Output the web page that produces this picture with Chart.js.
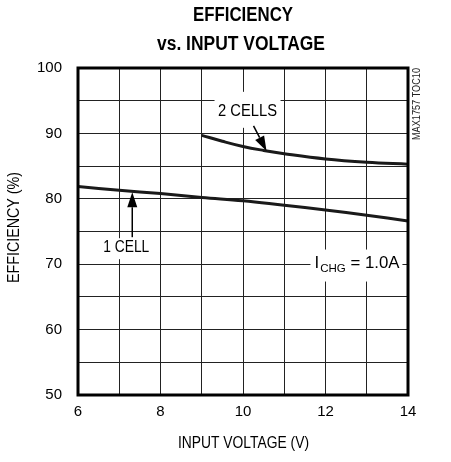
<!DOCTYPE html>
<html>
<head>
<meta charset="utf-8">
<script src="https://cdn.jsdelivr.net/npm/chart.js@4"></script>
<style>
  html, body { margin: 0; padding: 0; background: #fff; }
  #wrap { width: 451px; height: 462px; }
</style>
</head>
<body>
<div id="wrap"><canvas id="myChart" width="451" height="462"></canvas></div>
<script>
var FONT = '"Liberation Sans Narrow", "Arial Narrow", "Liberation Sans", sans-serif';

var oneCellV = [6, 7, 8, 9, 10, 11, 12, 13, 14];
var oneCellEff = [81.9, 81.3, 80.8, 80.2, 79.7, 79.0, 78.3, 77.5, 76.6];
var twoCellV = [9, 9.5, 10, 10.5, 11, 12, 13, 14];
var twoCellEff = [89.7, 88.8, 88.0, 87.4, 86.9, 86.1, 85.6, 85.3];
var xTicks = [6, 8, 10, 12, 14];
var yTicks = [50, 60, 70, 80, 90, 100];

function pts(xs, ys) {
  return xs.map(function (x, i) { return { x: x, y: ys[i] }; });
}

// text squeezed to a given width, centred on x
function fitText(c, txt, x, y, width) {
  var w = c.measureText(txt).width;
  c.save();
  c.translate(x, y);
  c.scale(width / w, 1);
  c.textAlign = 'center';
  c.fillText(txt, 0, 0);
  c.restore();
}

var ctx = document.getElementById('myChart');

var extras = {
  id: 'extras',
  afterDraw: function (chart) {
    var c = chart.ctx, a = chart.chartArea;
    var sx = chart.scales.x, sy = chart.scales.y;
    c.save();
    // frame
    c.strokeStyle = '#000';
    c.lineWidth = 3;
    c.strokeRect(a.left, a.top, a.right - a.left, a.bottom - a.top);

    // title
    c.fillStyle = '#000';
    c.textBaseline = 'middle';
    c.font = 'bold 20px ' + FONT;
    fitText(c, 'EFFICIENCY', 243, 15, 100);
    fitText(c, 'vs. INPUT VOLTAGE', 241, 44, 168);

    // axis titles
    c.font = '16px ' + FONT;
    fitText(c, 'INPUT VOLTAGE (V)', 243.5, 444, 131);
    c.save();
    c.translate(15, 227.5);
    c.rotate(-Math.PI / 2);
    fitText(c, 'EFFICIENCY (%)', 0, 0, 111);
    c.restore();

    function box(x0, y0, x1, y1) {
      c.fillStyle = '#fff';
      c.fillRect(x0, y0, x1 - x0, y1 - y0);
    }
    function arrow(x0, y0, x1, y1) {
      var ang = Math.atan2(y1 - y0, x1 - x0), L = 15, W = 5;
      var bx = x1 - L * Math.cos(ang), by = y1 - L * Math.sin(ang);
      c.strokeStyle = '#000';
      c.lineWidth = 1.5;
      c.beginPath(); c.moveTo(x0, y0); c.lineTo(bx, by); c.stroke();
      c.fillStyle = '#000';
      c.beginPath();
      c.moveTo(x1, y1);
      c.lineTo(bx + W * Math.sin(ang), by - W * Math.cos(ang));
      c.lineTo(bx - W * Math.sin(ang), by + W * Math.cos(ang));
      c.closePath(); c.fill();
    }

    c.font = '16px ' + FONT;
    var x2 = sx.getPixelForValue(10.11), y2 = sy.getPixelForValue(93.3);
    box(x2 - 33, y2 - 20, x2 + 33, y2 + 16);
    c.fillStyle = '#000';
    fitText(c, '2 CELLS', x2, y2, 59);
    arrow(x2 + 6, y2 + 14, sx.getPixelForValue(10.57), sy.getPixelForValue(87.3));

    var x1 = sx.getPixelForValue(7.17), y1 = sy.getPixelForValue(72.6);
    box(x1 - 25, y1 - 9, x1 + 25, y1 + 12);
    c.fillStyle = '#000';
    fitText(c, '1 CELL', x1, y1, 46);
    arrow(x1 + 6, y1 - 10, x1 + 6, sy.getPixelForValue(81.0));

    var xi = sx.getPixelForValue(12.75), yi = sy.getPixelForValue(70.1);
    box(xi - 46, yi - 14, xi + 46, yi + 18);
    c.fillStyle = '#000';
    // I_CHG = 1.0A, squeezed to ~85px
    c.save();
    c.translate(xi - 42, yi);
    c.font = '16px ' + FONT;
    var wI = c.measureText('I').width;
    var wEq = c.measureText(' = 1.0A').width;
    c.font = '11px ' + FONT;
    var wS = c.measureText('CHG').width;
    var k = 85 / (wI + 1 + wS + wEq);
    c.scale(k, 1);
    c.textAlign = 'left';
    c.font = '16px ' + FONT;
    c.fillText('I', 0, 0);
    c.font = '11px ' + FONT;
    c.fillText('CHG', wI + 1, 5);
    c.font = '16px ' + FONT;
    c.fillText(' = 1.0A', wI + 1 + wS, 0);
    c.restore();

    // part code
    c.translate(417, 104);
    c.rotate(-Math.PI / 2);
    c.font = '10px ' + FONT;
    c.fillStyle = '#222';
    fitText(c, 'MAX1757 TOC10', 0, 0, 72);
    c.restore();
  }
};

var myChart = new Chart(ctx, {
  type: 'line',
  data: {
    datasets: [{
      label: '1 CELL',
      data: pts(oneCellV, oneCellEff),
      borderColor: '#1a1a1a',
      borderWidth: 3,
      pointRadius: 0,
      tension: 0.4,
      fill: false
    }, {
      label: '2 CELLS',
      data: pts(twoCellV, twoCellEff),
      borderColor: '#1a1a1a',
      borderWidth: 3,
      pointRadius: 0,
      tension: 0.4,
      fill: false
    }]
  },
  options: {
    responsive: false,
    animation: false,
    devicePixelRatio: 1,
    layout: { padding: { left: 0, right: 43, top: 68, bottom: 0 } },
    plugins: { legend: { display: false }, tooltip: { enabled: false }, title: { display: false } },
    scales: {
      x: {
        type: 'linear',
        min: 6, max: 14,
        afterFit: function (s) { s.height = 67; },
        grid: { display: true, drawOnChartArea: true, color: '#222', lineWidth: 1, drawTicks: false },
        border: { display: false },
        ticks: {
          stepSize: 1,
          autoSkip: false,
          padding: 8,
          color: '#000',
          font: { family: FONT, size: 15 },
          callback: function (v) { return xTicks.indexOf(v) >= 0 ? String(v) : ''; }
        }
      },
      y: {
        min: 50, max: 100,
        afterFit: function (s) { s.width = 78; },
        grid: { display: true, drawOnChartArea: true, color: '#222', lineWidth: 1, drawTicks: false },
        border: { display: false },
        ticks: {
          stepSize: 5,
          autoSkip: false,
          padding: 16,
          color: '#000',
          font: { family: FONT, size: 15 },
          callback: function (v) { return yTicks.indexOf(v) >= 0 ? String(v) : ''; }
        }
      }
    }
  },
  plugins: [extras]
});
</script>
</body>
</html>
